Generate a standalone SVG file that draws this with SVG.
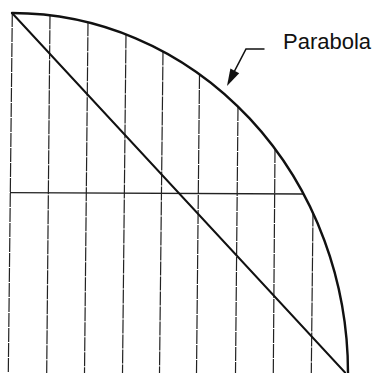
<svg xmlns="http://www.w3.org/2000/svg" width="380" height="373" viewBox="0 0 380 373">
  <style>
    .curve { fill: none; stroke: #111; stroke-width: 2.4; stroke-linecap: round; }
    .diag { fill: none; stroke: #111; stroke-width: 2; stroke-linecap: round; }
    .vert { fill: none; stroke: #222; stroke-width: 1.2; stroke-dasharray: 14 1; }
    .horiz { fill: none; stroke: #222; stroke-width: 1.3; }
    .leader { fill: none; stroke: #111; stroke-width: 1.6; }
    .label { font-family: "Liberation Sans", Arial, sans-serif; font-size: 22px; fill: #111; }
  </style>
  <rect width="380" height="373" fill="#fff"/>
  <g id="ordinates">
    <line class="vert" x1="12.3" y1="13" x2="8.3" y2="373"/>
    <line class="vert" x1="50" y1="15.3" x2="46.7" y2="373"/>
    <line class="vert" x1="88" y1="22.3" x2="84.5" y2="373"/>
    <line class="vert" x1="126" y1="34.4" x2="122.5" y2="373"/>
    <line class="vert" x1="163" y1="51.4" x2="159.5" y2="373"/>
    <line class="vert" x1="199.5" y1="75" x2="196.5" y2="373"/>
    <line class="vert" x1="238" y1="107" x2="235.5" y2="373"/>
    <line class="vert" x1="275" y1="149" x2="273.3" y2="373"/>
    <line class="vert" x1="313" y1="212.5" x2="311.3" y2="373"/>
  </g>
  <g id="axis">
    <line class="horiz" x1="10" y1="192.7" x2="304" y2="194"/>
  </g>
  <g id="diagonal">
    <line class="diag" x1="12" y1="13" x2="345" y2="372.5"/>
  </g>
  <g id="parabola">
    <path class="curve" d="M12,13 A336,360 0 0 1 348,373"/>
  </g>
  <g id="label">
    <text class="label" x="283" y="48.5">Parabola</text>
    <polyline class="leader" points="264.5,49 246,49 233,74"/>
    <polygon points="227,86 230.4,68.6 239.2,73.2" fill="#111"/>
  </g>
</svg>
